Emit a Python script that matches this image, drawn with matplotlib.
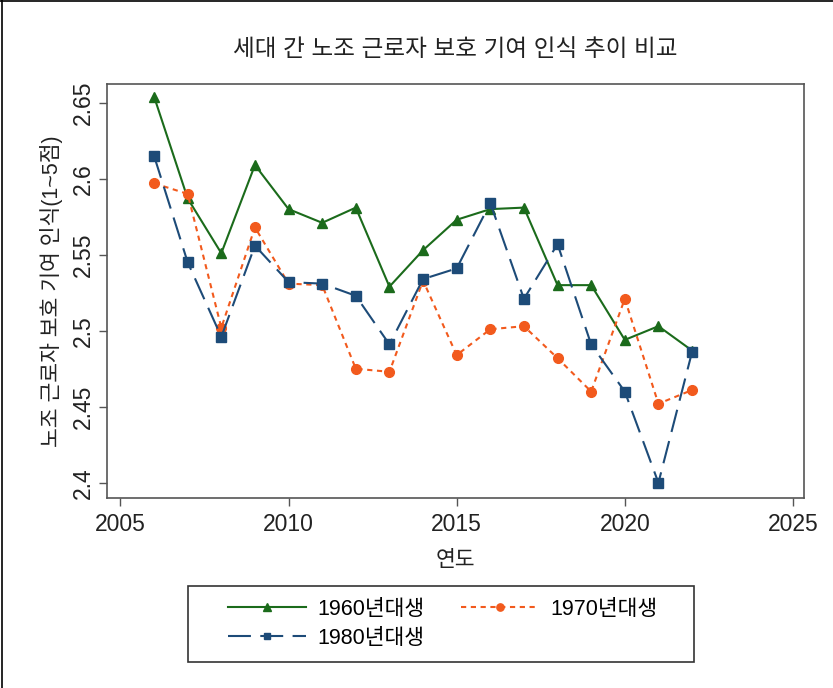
"""세대별 노조 근로자 보호 기여 인식 추이 (Stata 스타일 선 그래프)"""
import matplotlib
matplotlib.use("Agg")
import matplotlib.pyplot as plt
from matplotlib.lines import Line2D
from matplotlib.patches import Rectangle

plt.rcParams['font.family'] = ['Liberation Sans', 'Noto Sans CJK KR', 'DejaVu Sans']

years = list(range(2006, 2023))

gen_1960 = [2.654, 2.587, 2.551, 2.609, 2.580, 2.571, 2.581, 2.529, 2.553,
            2.573, 2.580, 2.581, 2.530, 2.530, 2.494, 2.503, 2.487]
gen_1970 = [2.597, 2.590, 2.502, 2.568, 2.531, 2.530, 2.475, 2.473, 2.533,
            2.484, 2.501, 2.503, 2.482, 2.460, 2.521, 2.452, 2.461]
gen_1980 = [2.615, 2.545, 2.496, 2.556, 2.532, 2.531, 2.523, 2.491, 2.534,
            2.541, 2.584, 2.521, 2.557, 2.491, 2.460, 2.400, 2.486]

labels = ["1960년대생", "1970년대생", "1980년대생"]
x_ticks = [2005, 2010, 2015, 2020, 2025]
y_ticks = [2.4, 2.45, 2.5, 2.55, 2.6, 2.65]
y_tick_labels = ["2.4", "2.45", "2.5", "2.55", "2.6", "2.65"]

W, H = 833, 688
fig = plt.figure(figsize=(W / 100, H / 100), dpi=100)
ax = fig.add_axes([107 / W, 1 - 498 / H, 697 / W, 414 / H])

l60, = ax.plot(years, gen_1960, color='#1b6b1b', linewidth=1.5, marker='^',
               markersize=7.5, label=labels[0])
l70, = ax.plot(years, gen_1970, color='#f25a1d', linewidth=1.5, marker='o',
               markersize=7, dashes=(2.5, 2.2), label=labels[1])
l80, = ax.plot(years, gen_1980, color='#1d4b78', linewidth=1.5, marker='s',
               markersize=6.5, dashes=(11, 4.5), label=labels[2])

ax.set_xlim(2004.6, 2025.33)
ax.set_ylim(2.390, 2.6623)
ax.set_xticks(x_ticks)
ax.set_yticks(y_ticks)
ax.set_yticklabels(y_tick_labels, rotation=90, va='center')
ax.tick_params(axis='both', labelsize=16.5, length=6, width=1, color='#555555',
               labelcolor='#222222')
ax.tick_params(axis='x', pad=5)
ax.tick_params(axis='y', pad=3)

for s in ax.spines.values():
    s.set_color('#555555')
    s.set_linewidth(1.2)

ax.set_title("세대 간 노조 근로자 보호 기여 인식 추이 비교", fontsize=17, pad=20,
             color='#222222')
ax.set_xlabel("연도", fontsize=15.5, labelpad=10, color='#222222')
ax.set_ylabel("노조 근로자 보호 기여 인식(1~5점)", fontsize=15.5, labelpad=6,
              color='#222222')

# legend: row-major order -> reorder for matplotlib column filling
leg = fig.legend([l60, l80, l70], [labels[0], labels[2], labels[1]], ncol=2,
                 loc='upper left', bbox_to_anchor=(228 / W, 1 - 599 / H),
                 fontsize=15.5, frameon=False, handlelength=3.6,
                 markerscale=0.75, columnspacing=1.7, handletextpad=0.55,
                 borderpad=0, labelspacing=0.35, borderaxespad=0)

# legend frame
fig.add_artist(Rectangle((188 / W, 1 - 662 / H), 506 / W, 76 / H,
                         transform=fig.transFigure, fill=False,
                         edgecolor='#333333', linewidth=1.2))

# outer border (top and left edges of the image)
fig.add_artist(Line2D([0.003, 0.003], [0, 1], color='black', linewidth=1.2,
                      transform=fig.transFigure))
fig.add_artist(Line2D([0, 1], [0.998, 0.998], color='black', linewidth=1.2,
                      transform=fig.transFigure))

fig.savefig('out.png', dpi=100)
